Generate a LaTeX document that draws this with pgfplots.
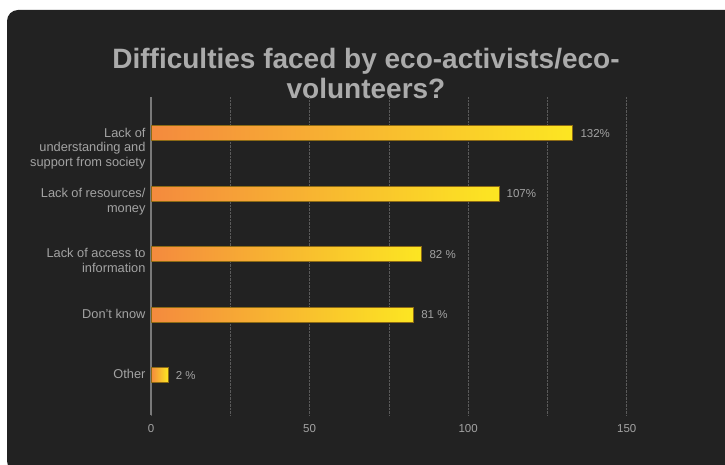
\documentclass[border=0pt]{standalone}
\usepackage{fontspec}
\setmainfont{Liberation Sans}
\usepackage{pgfplots}
\pgfplotsset{compat=1.18}
\definecolor{bg}{HTML}{222222}
\definecolor{titlegray}{HTML}{ABABAB}
\definecolor{textgray}{HTML}{A3A3A3}
\definecolor{axisgray}{HTML}{7A7A7A}
\definecolor{gridgray}{HTML}{5A5A5A}
\definecolor{barorange}{HTML}{F48A3E}
\definecolor{baryellow}{HTML}{FCE622}
\definecolor{barborder}{HTML}{8C6A14}
\tikzset{mybar/.style={xbar, bar width=15pt, bar shift=0pt, left color=barorange, right color=baryellow, draw=barborder, line width=0.8pt}}
\begin{document}
\begin{tikzpicture}[x=1pt,y=1pt]
\useasboundingbox (0,0) rectangle (725,464);
\clip (0,0) rectangle (725,464);
\fill[white] (0,0) rectangle (725,464);
\fill[bg, rounded corners=11pt] (7,-8) rectangle (737,454);
\node[font=\bfseries\fontsize{28}{30}\selectfont, text=titlegray, align=center] at (366,391) {Difficulties faced by eco-activists/eco-\\volunteers?};
\begin{axis}[
  at={(151pt,49pt)}, anchor=south west,
  scale only axis, width=555pt, height=318pt,
  xmin=0, xmax=175, ymin=-0.6, ymax=4.66, y dir=reverse,
  axis line style={draw=none},
  tick style={draw=none},
  xtick={0,50,100,150},
  minor xtick={25,75,125},
  xmajorgrids, xminorgrids,
  major grid style={densely dotted, gridgray, line width=0.6pt},
  minor grid style={densely dotted, gridgray, line width=0.6pt},
  extra x ticks={0}, extra x tick labels={},
  extra x tick style={grid=major, major grid style={solid, axisgray, line width=1.1pt}},
  ytick={0,1,2,3,4},
  yticklabels={Lack of\\understanding and\\support from society, Lack of resources/\\money, Lack of access to\\information, Don't know, Other},
  yticklabel style={align=right, anchor=north east, yshift=9pt, xshift=-2pt, font=\fontsize{12.8}{14.7}\selectfont, text=textgray},
  xticklabel style={font=\fontsize{11.5}{13}\selectfont, text=textgray, yshift=-6pt},
  /pgf/number format/assume math mode=true,
  nodes near coords,
  point meta=explicit symbolic,
  nodes near coords style={font=\fontsize{11.5}{13}\selectfont, text=textgray, anchor=west, xshift=4pt},
]
\addplot[mybar] coordinates {(133.0,0) [132\%]};
\addplot[mybar] coordinates {(109.7,1) [107\%]};
\addplot[mybar] coordinates {(85.4,2) [82 \%]};
\addplot[mybar] coordinates {(82.8,3) [81 \%]};
\addplot[mybar] coordinates {(5.4,4) [2 \%]};
\end{axis}
\end{tikzpicture}
\end{document}
